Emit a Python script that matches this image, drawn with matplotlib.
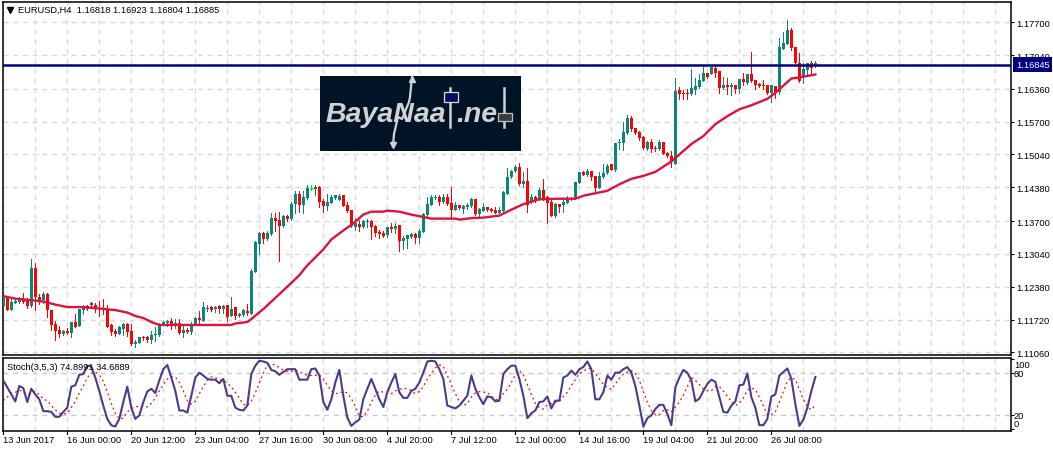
import matplotlib
matplotlib.use("Agg")
import matplotlib.pyplot as plt
from matplotlib.patches import Rectangle
from matplotlib.transforms import blended_transform_factory
import numpy as np

plt.rcParams['font.family'] = ['Liberation Sans', 'DejaVu Sans']

W, H = 1053, 452

# candles, prices (one value per 4h bar)
opens = [1.1199,1.1217,1.1191,1.1205,1.1207,1.1214,1.1213,1.1199,1.1275,1.1217,
         1.1211,1.1223,1.1191,1.1163,1.1151,1.1143,1.1149,1.1145,1.1166,1.1159,
         1.1191,1.1199,1.1205,1.1202,1.1196,1.1195,1.1193,1.1161,1.1149,1.1143,
         1.1153,1.1163,1.1149,1.1122,1.1125,1.1137,1.1136,1.1131,1.1141,1.1141,
         1.1163,1.1165,1.1169,1.1163,1.1165,1.1145,1.1151,1.1147,1.1162,1.1175,
         1.1170,1.1194,1.1197,1.1194,1.1199,1.1194,1.1201,1.1179,1.1197,1.1179,
         1.1181,1.1190,1.1184,1.1267,1.1323,1.1347,1.1333,1.1344,1.1376,1.1372,
         1.1361,1.1381,1.1375,1.1405,1.1425,1.1403,1.1417,1.1436,1.1435,1.1439,
         1.1411,1.1401,1.1407,1.1416,1.1413,1.1423,1.1403,1.1393,1.1358,1.1365,
         1.1358,1.1369,1.1371,1.1361,1.1349,1.1347,1.1343,1.1359,1.1355,1.1363,
         1.1329,1.1333,1.1339,1.1345,1.1335,1.1349,1.1383,1.1403,1.1417,1.1419,
         1.1408,1.1418,1.1406,1.1393,1.1403,1.1394,1.1398,1.1401,1.1415,1.1385,
         1.1391,1.1399,1.1395,1.1393,1.1387,1.1391,1.1425,1.1459,1.1471,1.1479,
         1.1444,1.1451,1.1408,1.1419,1.1414,1.1433,1.1419,1.1409,1.1381,1.1405,
         1.1403,1.1407,1.1416,1.1414,1.1446,1.1469,1.1463,1.1471,1.1461,1.1436,
         1.1459,1.1466,1.1484,1.1472,1.1527,1.1527,1.1547,1.1577,1.1557,1.1549,
         1.1539,1.1515,1.1529,1.1517,1.1515,1.1529,1.1507,1.1501,1.1485,1.1633,
         1.1627,1.1627,1.1625,1.1634,1.1639,1.1651,1.1667,1.1666,1.1679,1.1671,
         1.1637,1.1643,1.1639,1.1643,1.1635,1.1655,1.1647,1.1665,1.1653,1.1645,
         1.1643,1.1644,1.1627,1.1641,1.1630,1.1717,1.1727,1.1755,1.1721,1.1689,
         1.1661,1.1673,1.1688,1.16818]
highs = [1.1224,1.1219,1.1213,1.1213,1.1218,1.1225,1.1216,1.1294,1.1286,1.1224,
         1.1228,1.1225,1.1191,1.1169,1.1159,1.1151,1.1154,1.1166,1.1183,1.1194,
         1.1201,1.1201,1.1208,1.1205,1.1209,1.1213,1.1201,1.1163,1.1153,1.1158,
         1.1165,1.1165,1.1163,1.1131,1.1137,1.1139,1.1138,1.1149,1.1156,1.1165,
         1.1169,1.1171,1.1176,1.1174,1.1173,1.1159,1.1154,1.1166,1.1178,1.1189,
         1.1208,1.1202,1.1199,1.1199,1.1202,1.1202,1.1201,1.1218,1.1197,1.1185,
         1.1193,1.1203,1.1274,1.1330,1.1349,1.1348,1.1351,1.1386,1.1387,1.1388,
         1.1383,1.1383,1.1409,1.1431,1.1431,1.1431,1.1443,1.1443,1.1443,1.1441,
         1.1414,1.1425,1.1423,1.1423,1.1425,1.1423,1.1409,1.1393,1.1376,1.1373,
         1.1373,1.1374,1.1373,1.1363,1.1353,1.1350,1.1359,1.1366,1.1367,1.1363,
         1.1341,1.1343,1.1346,1.1346,1.1354,1.1387,1.1419,1.1423,1.1423,1.1423,
         1.1425,1.1424,1.1438,1.1409,1.1403,1.1403,1.1407,1.1417,1.1415,1.1396,
         1.1407,1.1399,1.1397,1.1398,1.1398,1.1431,1.1477,1.1473,1.1483,1.1486,
         1.1469,1.1477,1.1425,1.1421,1.1436,1.1455,1.1421,1.1413,1.1406,1.1405,
         1.1413,1.1421,1.1418,1.1449,1.1469,1.1470,1.1474,1.1471,1.1461,1.1469,
         1.1484,1.1484,1.1484,1.1527,1.1535,1.1569,1.1584,1.1581,1.1557,1.1552,
         1.1541,1.1532,1.1535,1.1522,1.1533,1.1530,1.1510,1.1512,1.1657,1.1639,
         1.1633,1.1635,1.1675,1.1658,1.1665,1.1681,1.1668,1.1681,1.1685,1.1671,
         1.1659,1.1657,1.1648,1.1643,1.1655,1.1667,1.1666,1.1710,1.1654,1.1648,
         1.1653,1.1644,1.1643,1.1641,1.1738,1.1751,1.1775,1.1758,1.1721,1.1708,
         1.1688,1.1688,1.1693,1.16923]
lows = [1.1199,1.1191,1.1191,1.1205,1.1205,1.1205,1.1196,1.1197,1.1191,1.1203,
        1.1206,1.1177,1.1151,1.1131,1.1137,1.1141,1.1142,1.1137,1.1156,1.1159,
        1.1184,1.1191,1.1198,1.1187,1.1180,1.1183,1.1157,1.1141,1.1139,1.1142,
        1.1141,1.1139,1.1120,1.1117,1.1125,1.1131,1.1127,1.1125,1.1129,1.1139,
        1.1161,1.1159,1.1153,1.1154,1.1143,1.1137,1.1144,1.1143,1.1161,1.1165,
        1.1169,1.1190,1.1190,1.1187,1.1186,1.1185,1.1170,1.1179,1.1174,1.1177,
        1.1179,1.1182,1.1184,1.1267,1.1303,1.1326,1.1331,1.1343,1.1351,1.1289,
        1.1359,1.1371,1.1373,1.1386,1.1388,1.1386,1.1415,1.1433,1.1423,1.1399,
        1.1388,1.1393,1.1406,1.1414,1.1413,1.1401,1.1389,1.1359,1.1353,1.1351,
        1.1356,1.1359,1.1334,1.1341,1.1335,1.1339,1.1337,1.1349,1.1346,1.1309,
        1.1313,1.1316,1.1336,1.1326,1.1326,1.1349,1.1379,1.1403,1.1414,1.1403,
        1.1406,1.1403,1.1375,1.1393,1.1394,1.1387,1.1394,1.1399,1.1383,1.1376,
        1.1391,1.1391,1.1389,1.1386,1.1386,1.1389,1.1425,1.1456,1.1469,1.1443,
        1.1439,1.1389,1.1406,1.1409,1.1413,1.1413,1.1367,1.1381,1.1379,1.1389,
        1.1389,1.1406,1.1413,1.1414,1.1446,1.1462,1.1461,1.1453,1.1431,1.1436,
        1.1456,1.1465,1.1472,1.1470,1.1515,1.1514,1.1545,1.1552,1.1545,1.1534,
        1.1515,1.1514,1.1509,1.1512,1.1514,1.1504,1.1499,1.1479,1.1484,1.1615,
        1.1615,1.1615,1.1623,1.1625,1.1638,1.1651,1.1658,1.1665,1.1659,1.1627,
        1.1635,1.1625,1.1623,1.1628,1.1627,1.1643,1.1645,1.1650,1.1635,1.1639,
        1.1635,1.1625,1.1609,1.1618,1.1625,1.1716,1.1726,1.1715,1.1688,1.1650,
        1.1647,1.1666,1.1665,1.16804]
closes = [1.1219,1.1191,1.1207,1.1209,1.1211,1.1207,1.1199,1.1275,1.1217,1.1209,
          1.1223,1.1191,1.1161,1.1149,1.1143,1.1149,1.1145,1.1166,1.1157,1.1193,
          1.1199,1.1193,1.1201,1.1193,1.1194,1.1191,1.1157,1.1146,1.1142,1.1157,
          1.1163,1.1147,1.1122,1.1126,1.1137,1.1135,1.1130,1.1141,1.1143,1.1163,
          1.1166,1.1169,1.1161,1.1165,1.1145,1.1151,1.1147,1.1161,1.1175,1.1171,
          1.1197,1.1196,1.1191,1.1198,1.1194,1.1200,1.1178,1.1194,1.1179,1.1183,
          1.1191,1.1185,1.1269,1.1327,1.1347,1.1333,1.1347,1.1376,1.1370,1.1361,
          1.1381,1.1375,1.1405,1.1425,1.1403,1.1419,1.1436,1.1436,1.1439,1.1409,
          1.1401,1.1409,1.1419,1.1423,1.1421,1.1401,1.1391,1.1361,1.1366,1.1358,
          1.1371,1.1371,1.1359,1.1347,1.1344,1.1341,1.1358,1.1355,1.1361,1.1329,
          1.1335,1.1343,1.1345,1.1335,1.1351,1.1385,1.1405,1.1419,1.1419,1.1408,
          1.1419,1.1405,1.1393,1.1403,1.1396,1.1401,1.1403,1.1415,1.1385,1.1394,
          1.1399,1.1393,1.1391,1.1387,1.1393,1.1429,1.1459,1.1471,1.1479,1.1444,
          1.1451,1.1403,1.1419,1.1413,1.1433,1.1415,1.1407,1.1381,1.1405,1.1399,
          1.1409,1.1415,1.1415,1.1449,1.1468,1.1463,1.1471,1.1459,1.1436,1.1461,
          1.1467,1.1481,1.1472,1.1527,1.1530,1.1550,1.1577,1.1555,1.1547,1.1537,
          1.1517,1.1529,1.1515,1.1516,1.1529,1.1505,1.1501,1.1489,1.1632,1.1625,
          1.1625,1.1625,1.1637,1.1641,1.1653,1.1667,1.1659,1.1681,1.1668,1.1637,
          1.1643,1.1639,1.1643,1.1635,1.1655,1.1649,1.1665,1.1651,1.1643,1.1641,
          1.1641,1.1627,1.1643,1.1629,1.1720,1.1729,1.1755,1.1719,1.1688,1.1651,
          1.1675,1.1688,1.1679,1.16885]

# moving average, read at the bars where it bends
ma_bars = [0,3,7,10,13,16,20,24,28,31,33,35,37,39,57,58,61,62,65,69,71,74,76,80,82,84,86,87,
           90,92,95,96,99,102,107,113,114,117,120,124,127,130,134,139,143,145,151,154,157,
           160,163,167,168,172,175,178,181,184,187,191,193,197,199,203]
ma_values = [1.1219,1.1214,1.1211,1.1208,1.1202,1.1197,1.1197,1.1194,1.1191,1.1186,1.1179,1.1175,
             1.1167,1.1161,1.1161,1.1164,1.1167,1.1173,1.1193,1.1223,1.1238,1.1261,1.1281,1.1313,
             1.1333,1.1345,1.1357,1.1362,1.1383,1.1389,1.1389,1.1391,1.1389,1.1383,1.1375,1.1375,
             1.1373,1.1376,1.1377,1.1381,1.1393,1.1404,1.1414,1.1415,1.1415,1.1421,1.1431,1.1444,
             1.1455,1.1461,1.1469,1.1490,1.1497,1.1525,1.1541,1.1565,1.1581,1.1595,1.1603,1.1616,
             1.1628,1.1657,1.1659,1.1665]

stoch_main = [70,60,50,40,62,59,39,58,50,43,26,26,25,18,18,25,31,61,63,78,79,91,90,74,55,34,15,6,4,15,
              39,61,31,15,20,39,54,58,52,70,86,92,74,55,27,27,24,48,74,81,77,72,71,71,66,72,48,48,31,28,
              27,34,79,91,98,97,95,85,83,78,82,86,86,86,71,71,71,86,87,77,39,28,43,67,85,48,17,5,10,14,
              43,58,72,58,43,32,53,67,79,53,45,45,55,58,67,81,97,98,97,86,72,34,32,30,34,41,48,77,58,46,
              36,47,46,40,41,79,86,91,91,72,48,16,23,27,39,40,47,30,41,41,74,77,84,78,86,89,97,86,43,43,
              53,77,71,81,81,86,89,81,62,34,4,16,20,29,35,35,22,6,60,74,85,81,70,40,44,55,65,71,68,46,
              25,24,34,40,63,64,80,46,31,6,6,15,47,50,77,82,87,72,36,5,14,31,55,74.9]
stoch_signal = [41,46,52,53,56,54,50,52,54,50,43,41,34,28,23,22,23,31,40,52,62,74,80,82,78,69,54,37,23,15,
                16,25,30,32,33,33,32,37,45,55,64,72,75,75,67,55,41,36,40,51,61,70,75,74,71,70,66,61,53,45,
                36,34,40,52,66,80,92,93,92,88,85,83,83,84,82,80,77,77,77,78,72,63,55,51,52,54,52,44,33,19,
                18,26,39,49,55,53,52,51,55,57,59,58,55,51,54,61,72,80,88,92,90,77,64,51,40,34,37,46,52,54,
                53,53,47,43,42,51,58,67,78,84,78,64,50,37,31,29,35,37,39,40,47,53,63,71,80,83,87,87,80,72,
                64,60,57,65,73,79,82,84,80,70,54,39,27,21,21,27,28,25,32,39,49,61,74,70,64,58,55,55,61,61,
                55,47,40,34,37,45,56,59,57,46,34,21,21,25,39,54,69,74,71,57,43,32,28,34.7]

price_ticks = [1.1770,1.1704,1.1636,1.1570,1.1504,1.1438,1.1370,1.1304,1.1238,1.1172,1.1106]
price_labels = ['1.17700','1.17040','1.16360','1.15700','1.15040','1.14380','1.13700','1.13040','1.12380','1.11720','1.11060']
stoch_levels = [100, 80, 20, 0]
date_labels = ['13 Jun 2017','16 Jun 00:00','20 Jun 12:00','23 Jun 04:00','27 Jun 16:00','30 Jun 08:00','4 Jul 20:00',
               '7 Jul 12:00','12 Jul 00:00','14 Jul 16:00','19 Jul 04:00','21 Jul 20:00','26 Jul 08:00']
last_price = 1.16845

UP = '#0a8578'
DOWN = '#ff0000'
DOJI = '#00e000'
MA_COL = '#dc143c'
NAVY = '#000080'
GRID = '#d9d9d9'
FS = 6.7


def axes_px(left, top, right, bottom):
    return [left / W, 1 - bottom / H, (right - left) / W, (bottom - top) / H]


fig = plt.figure(figsize=(W / 100, H / 100), dpi=100, facecolor='white')
ax = fig.add_axes(axes_px(3, 2.5, 1011, 355.5))
ax2 = fig.add_axes(axes_px(3, 358.5, 1011, 431.5))

x = np.arange(len(closes))
o = np.array(opens)
h = np.array(highs)
l = np.array(lows)
c = np.array(closes)
colors = np.where(c > o, UP, np.where(c < o, DOWN, DOJI))

xlim = (-0.07, 251.9)
grid_x = np.arange(0, 252, 8)
for a in (ax, ax2):
    a.set_xlim(*xlim)
    a.set_axisbelow(True)
    a.set_xticks(grid_x)
    a.grid(True, color=GRID, linestyle=(0, (3.5, 3.5)), linewidth=1.0)
    for s in a.spines.values():
        s.set_linewidth(1.1)

# price panel
ax.vlines(x, l, h, colors=colors, linewidth=0.7, zorder=2, antialiased=False)
body = np.abs(c - o)
bottoms = np.minimum(o, c)
solid = body > 0
ax.bar(x[solid], body[solid], bottom=bottoms[solid], width=0.7, color=colors[solid], linewidth=0, zorder=3)
ax.hlines(c[~solid], x[~solid] - 0.4, x[~solid] + 0.4, colors=DOJI, linewidth=1.0, zorder=3)
ax.plot(ma_bars, ma_values, color=MA_COL, linewidth=1.7, zorder=4)
ax.axhline(last_price, color=NAVY, linewidth=1.8, zorder=5)

ax.set_ylim(1.11016, 1.18118)
ax.yaxis.tick_right()
ax.set_yticks(price_ticks)
ax.set_yticklabels(price_labels, fontsize=FS)
ax.tick_params(axis='y', length=2.5, width=0.8, pad=1.2)
ax.tick_params(axis='x', length=0, labelbottom=False)

trans = blended_transform_factory(ax.transAxes, ax.transData)
ax.text(1.0048, last_price, '1.16845', transform=trans, ha='left', va='center', color='white', fontsize=FS,
        clip_on=False, zorder=7, bbox=dict(boxstyle='square,pad=0.3', fc=NAVY, ec=NAVY, lw=0))

fig.text(18 / W, 1 - 10.5 / H, 'EURUSD,H4  1.16818 1.16923 1.16804 1.16885', fontsize=FS, va='center', ha='left')
ax.plot([10 / W], [1 - 10.5 / H], marker='v', color='black', markersize=4.5, transform=fig.transFigure, clip_on=False)

# stochastic panel
ax2.plot(x, stoch_signal, color='#ff0000', linewidth=0.9, linestyle=(0, (1.5, 2.5)), zorder=3)
ax2.plot(x, stoch_main, color='#483d8b', linewidth=1.5, zorder=4)
ax2.set_ylim(-1.6, 102.7)
ax2.yaxis.tick_right()
ax2.set_yticks(stoch_levels)
ax2.set_yticklabels([])
ax2.tick_params(axis='y', length=2.5, width=0.8)
ax2.yaxis.grid(False)
for lev in (80, 20):
    ax2.axhline(lev, color='#c8c8c8', linestyle=(0, (3.5, 3.5)), linewidth=1.0, zorder=1)
for lev, ypx in zip(stoch_levels, [365.2, 374.6, 416.3, 424.5]):
    fig.text(1014 / W, 1 - ypx / H, str(lev), fontsize=FS, va='center', ha='left')
fig.text(7 / W, 1 - 367.5 / H, 'Stoch(3,5,3) 74.8991 34.6889', fontsize=FS, va='center', ha='left')

ax2.tick_params(axis='x', length=0, labelbottom=False)
for k, label in enumerate(date_labels):
    bar = k * 16
    xpx = 3.3 + 4 * bar
    ax2.plot([bar, bar], [0, -0.045], color='black', linewidth=0.8, transform=ax2.get_xaxis_transform(), clip_on=False)
    fig.text(xpx / W, 1 - 440.5 / H, label, fontsize=FS, va='center', ha='left')

# site logo on top of the chart
logo = fig.add_axes(axes_px(320, 77, 521, 152), zorder=10)
logo.set_xlim(320, 521)
logo.set_ylim(152, 77)
logo.axis('off')
logo.add_patch(Rectangle((320, 77), 201, 75, fc='#001426', ec='none'))
logo.text(325, 115, 'BayaNaa', fontsize=20.5, fontweight='bold', style='italic', color='#cfd3d6', va='center', ha='left')
logo.text(456, 115, '.ne', fontsize=20.5, fontweight='bold', style='italic', color='#cfd3d6', va='center', ha='left')
logo.plot([412, 410, 409, 402, 398, 394, 393], [78, 98, 103, 120, 118, 135, 147], color='#cfd3d6', linewidth=1.6)
logo.plot([412], [80], marker='^', color='#cfd3d6', markersize=4)
logo.plot([393], [146], marker='v', color='#cfd3d6', markersize=4)
logo.plot([450, 450], [89, 128], color='#cfd3d6', linewidth=1.8)
logo.add_patch(Rectangle((444, 93), 14, 10, fc='#0a0a60', ec='#d8dce0', lw=0.9, zorder=3))
logo.plot([504, 504], [89, 128], color='#cfd3d6', linewidth=1.8)
logo.add_patch(Rectangle((498, 114), 14, 8, fc='#3a3a3a', ec='#c0c0c0', lw=0.9, zorder=3))

fig.savefig('out.png', dpi=100, facecolor='white')
